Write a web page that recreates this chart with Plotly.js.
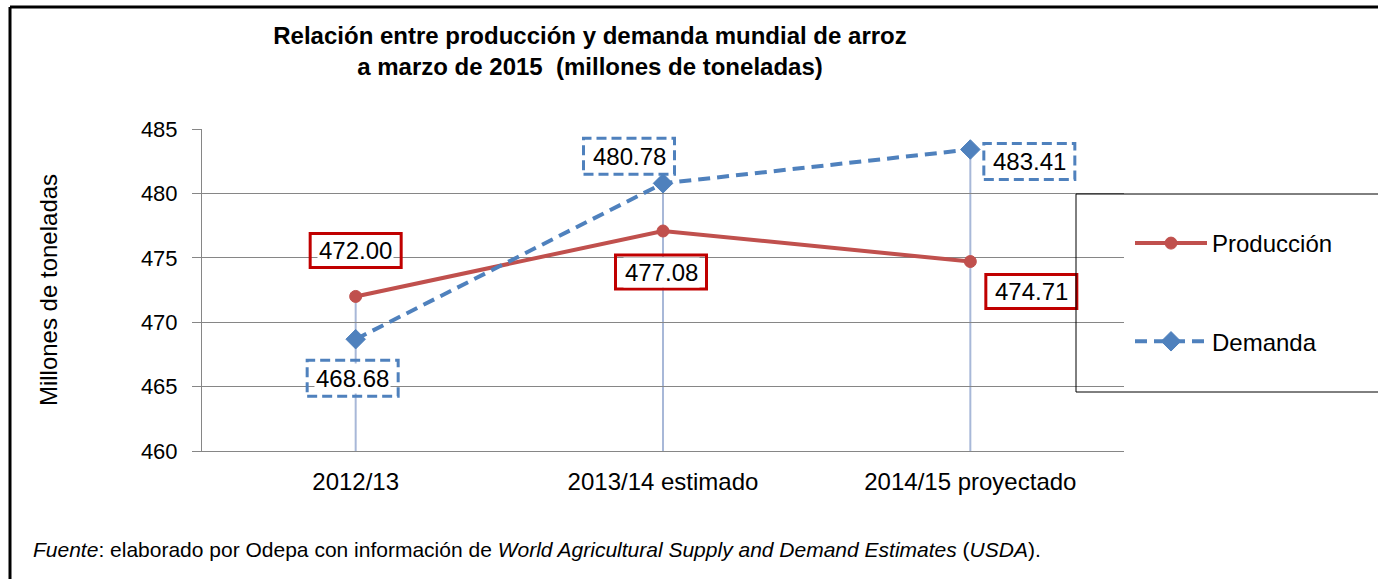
<!DOCTYPE html>
<html>
<head>
<meta charset="utf-8">
<script src="https://cdn.plot.ly/plotly-3.0.1.min.js"></script>
<style>
html,body{margin:0;padding:0;background:#fff;}
#chart{width:1378px;height:579px;}
</style>
</head>
<body>
<div id="chart"></div>
<script>
// ---- data ----
const categories = ['2012/13', '2013/14 estimado', '2014/15 proyectado'];
const produccion = [472.00, 477.08, 474.71];
const demanda = [468.68, 480.78, 483.41];
const seriesNames = ['Producción', 'Demanda'];
const yTicks = [460, 465, 470, 475, 480, 485];

// ---- layout geometry ----
const W = 1378, H = 579;
const L = 202, R = 1124, T = 129, B = 451;
const pw = R - L, ph = B - T;
const px2x = p => (p - L) / pw;
const py2y = p => (B - p) / ph;

const RED = '#c0504d', BLUE = '#4f81bd', RED_BOX = '#c00000';
const FONT = 'Liberation Sans, Arial, sans-serif';

const traces = [
  {
    x: categories, y: produccion, name: seriesNames[0], type: 'scatter', mode: 'lines+markers',
    line: {color: RED, width: 4},
    marker: {symbol: 'circle', size: 12, color: RED, line: {color: RED, width: 1}},
    legendgroup: 'p', hoverinfo: 'skip'
  },
  {
    x: categories, y: demanda, name: seriesNames[1], type: 'scatter', mode: 'lines+markers',
    line: {color: BLUE, width: 4, dash: '12px,7px'},
    marker: {symbol: 'diamond', size: 15, color: BLUE, line: {color: BLUE, width: 1}},
    legendgroup: 'd', hoverinfo: 'skip'
  }
];

// label offsets (screen px, dx right, dy down) relative to each point
const prodOff = [[0, -46], [-2, 41], [61, 30]];
const demOff = [[-3, 39], [-34, -27], [59, 12]];

const annotations = [];
const shapes = [];

// drop lines from the highest value down to the axis minimum
categories.forEach((c, i) => {
  shapes.push({
    type: 'line', xref: 'x', yref: 'y', layer: 'below',
    x0: c, x1: c, y0: yTicks[0], y1: Math.max(produccion[i], demanda[i]),
    line: {color: '#a8b8d8', width: 2}
  });
});

function addLabel(c, v, off, dashed, color, bw, bh) {
  annotations.push({
    x: c, y: v, xref: 'x', yref: 'y', showarrow: false,
    text: v.toFixed(2), xshift: off[0], yshift: -off[1],
    font: {family: FONT, size: 24, color: '#000'},
    bgcolor: 'rgba(255,255,255,1)'
  });
  shapes.push({
    type: 'rect', xref: 'x', yref: 'y',
    xsizemode: 'pixel', ysizemode: 'pixel', xanchor: c, yanchor: v,
    x0: off[0] - bw / 2, x1: off[0] + bw / 2,
    y0: -off[1] - bh / 2, y1: -off[1] + bh / 2,
    line: {color: color, width: 3, dash: dashed ? '10px,5px' : 'solid'},
    fillcolor: 'rgba(0,0,0,0)'
  });
}
categories.forEach((c, i) => {
  addLabel(c, produccion[i], prodOff[i], false, RED_BOX, 91, 34);
  addLabel(c, demanda[i], demOff[i], true, BLUE, 91, 36);
});

// outer frame (left & top edges visible)
shapes.push({type: 'line', xref: 'paper', yref: 'paper', x0: px2x(10), x1: px2x(1400), y0: py2y(7), y1: py2y(7), line: {color: '#000', width: 3}});
shapes.push({type: 'line', xref: 'paper', yref: 'paper', x0: px2x(10), x1: px2x(10), y0: py2y(7), y1: py2y(600), line: {color: '#000', width: 3}});
// legend box
shapes.push({type: 'rect', xref: 'paper', yref: 'paper', x0: px2x(1076), x1: px2x(1400), y0: py2y(194), y1: py2y(392), line: {color: '#000', width: 1}, fillcolor: 'rgba(0,0,0,0)'});

// footnote
annotations.push({
  xref: 'paper', yref: 'paper', x: px2x(31), y: py2y(549), xanchor: 'left', yanchor: 'middle', showarrow: false,
  text: '<i>Fuente</i>: elaborado por Odepa con información de <i>World Agricultural Supply and Demand Estimates</i> (<i>USDA</i>).',
  font: {family: FONT, size: 21, color: '#000'}
});

const layout = {
  width: W, height: H,
  margin: {l: L, r: W - R, t: T, b: H - B, pad: 0},
  paper_bgcolor: '#fff', plot_bgcolor: '#fff',
  font: {family: FONT, color: '#000'},
  title: {
    text: '<b>Relación entre producción y demanda mundial de arroz<br>a marzo de 2015  (millones de toneladas)</b>',
    font: {family: FONT, size: 24, color: '#000'},
    x: 590 / W, xanchor: 'center', xref: 'container',
    y: 1 - 44 / H, yanchor: 'top', yref: 'container'
  },
  xaxis: {
    type: 'category', range: [-0.5, 2.5], showgrid: false, zeroline: false,
    showline: true, linecolor: '#868686', linewidth: 1, ticks: '',
    tickfont: {family: FONT, size: 24, color: '#000'}, ticklabelstandoff: 9
  },
  yaxis: {
    range: [460, 485], tickvals: yTicks, ticktext: yTicks.map(String),
    showgrid: true, gridcolor: '#868686', gridwidth: 1, zeroline: false,
    showline: true, linecolor: '#868686', linewidth: 1,
    ticks: 'outside', ticklen: 9, tickcolor: '#868686', ticklabelstandoff: 10,
    tickfont: {family: FONT, size: 22, color: '#000'},
    title: {text: 'Millones de toneladas', font: {family: FONT, size: 24, color: '#000'}, standoff: 76}
  },
  legend: {
    x: px2x(1130), y: py2y(221), xanchor: 'left', yanchor: 'top',
    bgcolor: 'rgba(0,0,0,0)', borderwidth: 0,
    font: {family: FONT, size: 24, color: '#000'},
    itemwidth: 72, tracegroupgap: 64, traceorder: 'grouped'
  },
  showlegend: true,
  shapes: shapes,
  annotations: annotations,
  hovermode: false
};

Plotly.newPlot('chart', traces, layout, {displayModeBar: false, staticPlot: true});
</script>
</body>
</html>
